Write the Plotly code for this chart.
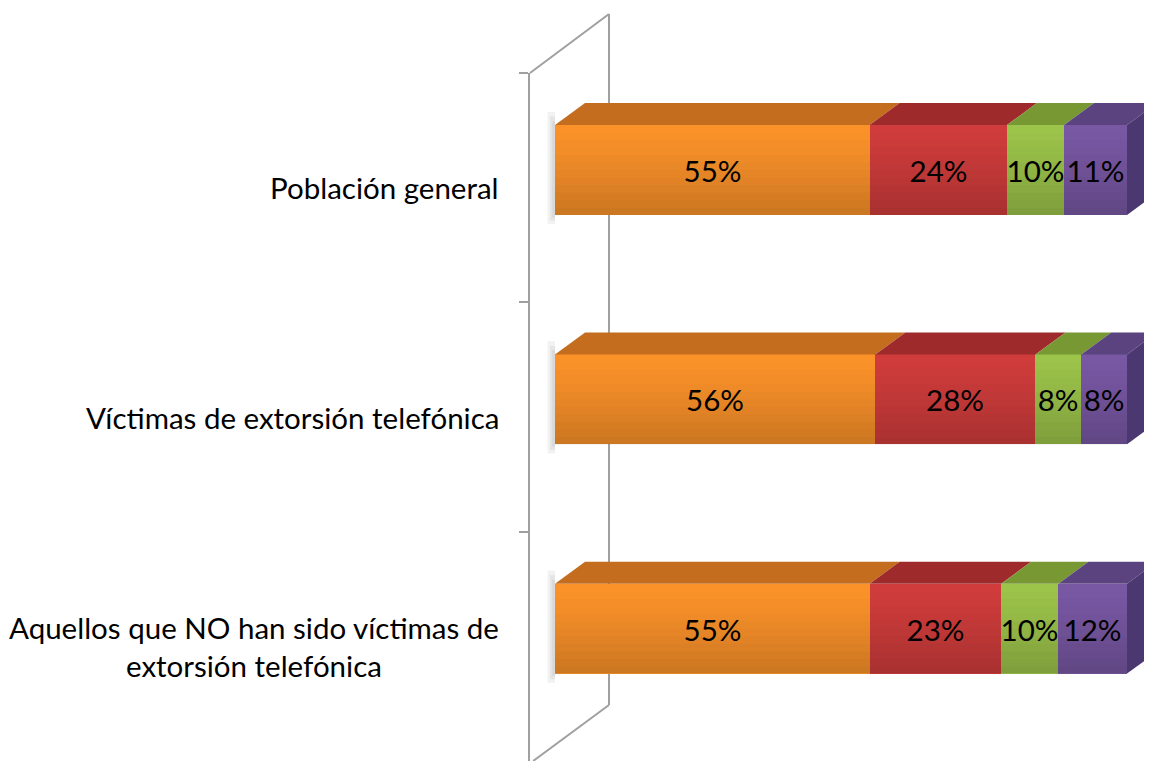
import plotly.graph_objects as go

categories = ["Población general",
              "Víctimas de extorsión telefónica",
              "Aquellos que NO han sido víctimas de<br>extorsión telefónica"]
series_names = ["S1", "S2", "S3", "S4"]
values = {
    "S1": [55, 56, 55],
    "S2": [24, 28, 23],
    "S3": [10, 8, 10],
    "S4": [11, 8, 12],
}
front_colors = ["#FC932A", "#D03D3C", "#9DC44B", "#7958A4"]
top_colors = ["#C46D1E", "#9E2A2B", "#779833", "#5B4380"]
side_color = "#4C3870"

FONT = "Lato"
FS = 29.5

BAR_OFFSET = -0.273
BAR_WIDTH = 0.392
DX = 5.25      # depth in x units
DY = 0.0959    # depth in category units

fig = go.Figure()
for i, name in enumerate(series_names):
    fig.add_trace(go.Bar(
        y=categories, x=values[name], orientation="h", name=name,
        offset=BAR_OFFSET, width=BAR_WIDTH,
        marker=dict(color=front_colors[i], line=dict(width=0)),
        texttemplate="%{x}%", textposition="inside", insidetextanchor="middle",
        textangle=0,
        textfont=dict(family=FONT, size=FS, color="#000000"),
        hoverinfo="skip",
    ))

shapes = []
N_STRIPS = 12
for r, cat in enumerate(categories):
    ft = r + BAR_OFFSET
    fb = ft + BAR_WIDTH
    total = sum(values[n][r] for n in series_names)
    # vertical shading of the front faces
    for k in range(N_STRIPS):
        t = (k + 0.5) / N_STRIPS
        a = 0.20 * t ** 1.3
        shapes.append(dict(type="rect", xref="x", yref="y",
                           x0=0, x1=total,
                           y0=ft + BAR_WIDTH * k / N_STRIPS,
                           y1=ft + BAR_WIDTH * (k + 1) / N_STRIPS,
                           fillcolor=f"rgba(0,0,0,{a:.3f})",
                           line=dict(width=0), layer="above"))
    # 3D top faces
    cum = 0
    for i, name in enumerate(series_names):
        x0 = cum
        x1 = cum + values[name][r]
        cum = x1
        path = (f"M {x0},{ft} L {x1},{ft} L {x1+DX},{ft-DY} "
                f"L {x0+DX},{ft-DY} Z")
        shapes.append(dict(type="path", path=path, xref="x", yref="y",
                           fillcolor=top_colors[i], line=dict(width=0),
                           layer="above"))
    # right side face
    path = (f"M {cum},{ft} L {cum+DX},{ft-DY} L {cum+DX},{fb-DY} "
            f"L {cum},{fb} Z")
    shapes.append(dict(type="path", path=path, xref="x", yref="y",
                       fillcolor=side_color, line=dict(width=0), layer="above"))
    # soft shadow on the left
    for k, a in enumerate([0.05, 0.05, 0.05]):
        w = 1.3 - k * 0.4
        shapes.append(dict(type="rect", xref="x", yref="y",
                           x0=-w, x1=0, y0=ft - DY * 0.6 + k * 0.02,
                           y1=fb + 0.04 - k * 0.015,
                           fillcolor=f"rgba(0,0,0,{a})", line=dict(width=0),
                           layer="below"))

# back wall outline (paper coords)
wall = "#A0A0A0"
bx = 0.127
shapes += [
    dict(type="line", xref="paper", yref="paper", x0=bx, x1=bx,
         y0=0.0814, y1=1.0858, line=dict(color=wall, width=2), layer="below"),
    dict(type="line", xref="paper", yref="paper", x0=0, x1=bx,
         y0=1.0, y1=1.0858, line=dict(color=wall, width=2), layer="below"),
    dict(type="line", xref="paper", yref="paper", x0=0.005, x1=bx,
         y0=0.0, y1=0.0814, line=dict(color=wall, width=2), layer="below"),
]

annotations = []
for cat in categories:
    annotations.append(dict(
        text=cat, xref="paper", yref="y", x=-0.046, y=cat,
        xanchor="right", yanchor="middle", align="center", showarrow=False,
        font=dict(family=FONT, size=FS, color="#000000"),
    ))

# the page places the figure 8 px from the top-left corner
fig.update_layout(
    width=1144, height=753,
    margin=dict(l=522, r=0, t=65, b=0, autoexpand=False),
    barmode="stack",
    bargap=0,
    showlegend=False,
    plot_bgcolor="white", paper_bgcolor="white",
    shapes=shapes,
    annotations=annotations,
    uniformtext=dict(minsize=FS, mode="show"),
    xaxis=dict(range=[-4.37, 104.37], visible=False, fixedrange=True),
    yaxis=dict(type="category", categoryarray=categories,
               autorange="reversed", showticklabels=False,
               tickson="boundaries", ticks="outside", ticklen=9,
               tickcolor=wall, tickwidth=2,
               showline=True, linecolor=wall, linewidth=2,
               showgrid=False, zeroline=False, fixedrange=True),
)

fig.write_html("out.html")
